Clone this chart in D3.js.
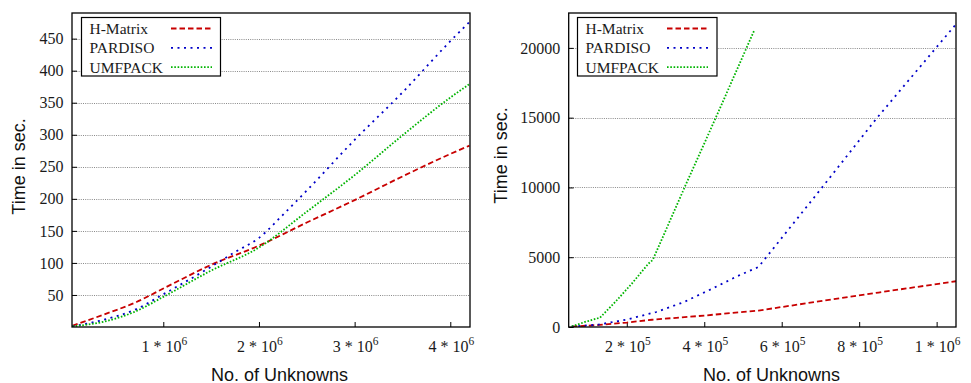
<!DOCTYPE html>
<html>
<head>
<meta charset="utf-8">
<script src="https://cdn.jsdelivr.net/npm/d3@7"></script>
<style>
html,body{margin:0;padding:0;background:#fff;}
svg{display:block;}
</style>
</head>
<body>
<svg id="chart" width="971" height="383"></svg>
<script>
// ---------- DATA ----------
const seriesNames = ["H-Matrix", "PARDISO", "UMFPACK"];

// Left panel (No. of unknowns, time in sec.)
const leftHMatrixX = [0.05e6, 0.37e6, 0.72e6, 1.0e6, 1.5e6, 2.0e6, 2.5e6, 3.0e6, 3.5e6, 4.0e6, 4.2e6];
const leftHMatrixY = [2, 19, 39, 60, 97, 127, 163, 198, 235, 270, 283];
const leftPardisoX = [0.05e6, 0.37e6, 0.72e6, 1.0e6, 1.5e6, 1.75e6, 2.0e6, 2.25e6, 2.5e6, 3.0e6, 3.5e6, 4.0e6, 4.2e6];
const leftPardisoY = [1, 11, 28, 51, 94, 117, 139, 175, 213, 292, 366, 446, 476];
const leftUmfpackX = [0.05e6, 0.37e6, 0.72e6, 1.0e6, 1.5e6, 2.0e6, 2.5e6, 3.0e6, 3.5e6, 4.0e6, 4.2e6];
const leftUmfpackY = [1, 8, 25, 47, 88, 124, 180, 237, 299, 358, 379];
const leftXTicks = [1e6, 2e6, 3e6, 4e6];
const leftXTickMant = ["1", "2", "3", "4"];
const leftXTickExp = ["6", "6", "6", "6"];
const leftYTicks = [50, 100, 150, 200, 250, 300, 350, 400, 450];

// Right panel
const rightHMatrixX = [58e3, 130e3, 200e3, 265e3, 400e3, 540e3, 700e3, 850e3, 1050e3];
const rightHMatrixY = [30, 150, 320, 520, 820, 1180, 1850, 2470, 3280];
const rightPardisoX = [58e3, 127e3, 200e3, 276e3, 346e3, 417e3, 486e3, 540e3, 700e3, 845e3, 1050e3];
const rightPardisoY = [30, 172, 530, 1075, 1770, 2700, 3650, 4300, 9850, 14950, 21700];
const rightUmfpackX = [58e3, 92e3, 131e3, 170e3, 213e3, 256e3, 267e3, 349e3, 430e3, 529e3];
const rightUmfpackY = [40, 360, 674, 1790, 3110, 4545, 4800, 9990, 15010, 21250];
const rightXTicks = [2e5, 4e5, 6e5, 8e5, 1e6];
const rightXTickMant = ["2", "4", "6", "8", "1"];
const rightXTickExp = ["5", "5", "5", "5", "6"];
const rightYTicks = [0, 5000, 10000, 15000, 20000];

// ---------- STYLE ----------
const colors = ["#c80000", "#0000c8", "#00b400"];
const dashes = ["5.5 3", "2 4.5", "1.6 1.7"];
const serif = "'Liberation Serif', 'Times New Roman', serif";
const sans = "'Liberation Sans', Arial, sans-serif";

const svg = d3.select("#chart");

function panel(cfg) {
  const g = svg.append("g");
  const x = d3.scaleLinear().domain(cfg.xDomain).range([cfg.left, cfg.right]);
  const y = d3.scaleLinear().domain(cfg.yDomain).range([cfg.bottom, cfg.top]);

  // grid
  g.append("g").selectAll("line").data(cfg.yTicks.filter(v => v > cfg.yDomain[0])).join("line")
    .attr("x1", cfg.left).attr("x2", cfg.right)
    .attr("y1", d => Math.round(y(d)) + 0.5).attr("y2", d => Math.round(y(d)) + 0.5)
    .attr("stroke", "#8a8a8a").attr("stroke-width", 1).attr("stroke-dasharray", "1 1.2");

  // y axis ticks/labels
  const yAxis = d3.axisLeft(y).tickValues(cfg.yTicks).tickSize(-5).tickPadding(8.5).tickFormat(d3.format("d"));
  const ya = g.append("g").attr("transform", `translate(${cfg.left},0)`).call(yAxis);
  ya.select(".domain").remove();
  ya.selectAll("line").attr("stroke", "#000");
  ya.selectAll("text").attr("font-family", serif).attr("font-size", 16).attr("fill", "#1a1a1a");

  // x axis ticks/labels
  const xAxis = d3.axisBottom(x).tickValues(cfg.xTicks).tickSize(-5).tickFormat("");
  const xa = g.append("g").attr("transform", `translate(0,${cfg.bottom})`).call(xAxis);
  xa.select(".domain").remove();
  xa.selectAll("line").attr("stroke", "#000");
  const tl = g.append("g").selectAll("text").data(cfg.xTicks).join("text")
    .attr("x", d => x(d) + 1).attr("y", cfg.bottom + 25)
    .attr("text-anchor", "middle").attr("font-family", serif).attr("font-size", 16).attr("fill", "#1a1a1a");
  tl.append("tspan").text((d, i) => cfg.xMant[i] + " * 10");
  tl.append("tspan").attr("dy", -7.5).attr("font-size", 11.5).text((d, i) => cfg.xExp[i]);

  // lines
  const clipId = "clip" + cfg.id;
  svg.append("clipPath").attr("id", clipId).append("rect")
    .attr("x", cfg.left).attr("y", cfg.top).attr("width", cfg.right - cfg.left).attr("height", cfg.bottom - cfg.top);
  const line = d3.line().x(d => x(d[0])).y(d => y(d[1])).curve(cfg.curve);
  const lg = g.append("g").attr("clip-path", `url(#${clipId})`);
  cfg.series.forEach((s, i) => {
    const pts = s.x.map((v, k) => [v, s.y[k]]);
    lg.append("path").attr("d", line(pts)).attr("fill", "none")
      .attr("stroke", colors[i]).attr("stroke-width", 1.8).attr("stroke-dasharray", dashes[i]);
  });

  // frame
  g.append("rect").attr("x", cfg.left).attr("y", cfg.top)
    .attr("width", cfg.right - cfg.left).attr("height", cfg.bottom - cfg.top)
    .attr("fill", "none").attr("stroke", "#000").attr("stroke-width", 1.3);

  // legend
  const L = cfg.legend;
  g.append("rect").attr("x", L.x).attr("y", L.y).attr("width", L.w).attr("height", L.h)
    .attr("fill", "#fff").attr("stroke", "#000").attr("stroke-width", 1.2);
  seriesNames.forEach((n, i) => {
    const cy = L.y + 11 + i * 19.3;
    g.append("text").attr("x", L.x + 8).attr("y", cy).attr("dy", "0.35em")
      .attr("font-family", serif).attr("font-size", 15.5).attr("fill", "#1a1a1a").text(n);
    g.append("line").attr("x1", L.sx1).attr("x2", L.sx2).attr("y1", cy).attr("y2", cy)
      .attr("stroke", colors[i]).attr("stroke-width", 1.8).attr("stroke-dasharray", dashes[i]);
  });

  // axis titles
  g.append("text").attr("transform", `translate(${cfg.yTitleX},${cfg.yTitleY}) rotate(-90)`)
    .attr("text-anchor", "middle").attr("dy", "0.35em")
    .attr("font-family", sans).attr("font-size", 18).attr("fill", "#111").text("Time in sec.");
  g.append("text").attr("x", cfg.xTitleX).attr("y", 380.5)
    .attr("text-anchor", "middle")
    .attr("font-family", sans).attr("font-size", 18).attr("fill", "#111").text("No. of Unknowns");
}

panel({
  id: "L", left: 72, right: 470, top: 13, bottom: 327,
  xDomain: [45700, 4.206e6], yDomain: [0, 490],
  yTicks: leftYTicks, xTicks: leftXTicks, xMant: leftXTickMant, xExp: leftXTickExp,
  curve: d3.curveMonotoneX,
  series: [
    {x: leftHMatrixX, y: leftHMatrixY},
    {x: leftPardisoX, y: leftPardisoY},
    {x: leftUmfpackX, y: leftUmfpackY}
  ],
  legend: {x: 81.5, y: 17.5, w: 139, h: 58.5, sx1: 171, sx2: 212},
  yTitleX: 19, yTitleY: 166.5, xTitleX: 279.5
});

panel({
  id: "R", left: 568.7, right: 956, top: 13, bottom: 327,
  xDomain: [50000, 1.05e6], yDomain: [0, 22500],
  yTicks: rightYTicks, xTicks: rightXTicks, xMant: rightXTickMant, xExp: rightXTickExp,
  curve: d3.curveLinear,
  series: [
    {x: rightHMatrixX, y: rightHMatrixY},
    {x: rightPardisoX, y: rightPardisoY},
    {x: rightUmfpackX, y: rightUmfpackY}
  ],
  legend: {x: 577.5, y: 17.5, w: 139.5, h: 58.5, sx1: 667, sx2: 708},
  yTitleX: 501, yTitleY: 155.5, xTitleX: 771.5
});
</script>
</body>
</html>
